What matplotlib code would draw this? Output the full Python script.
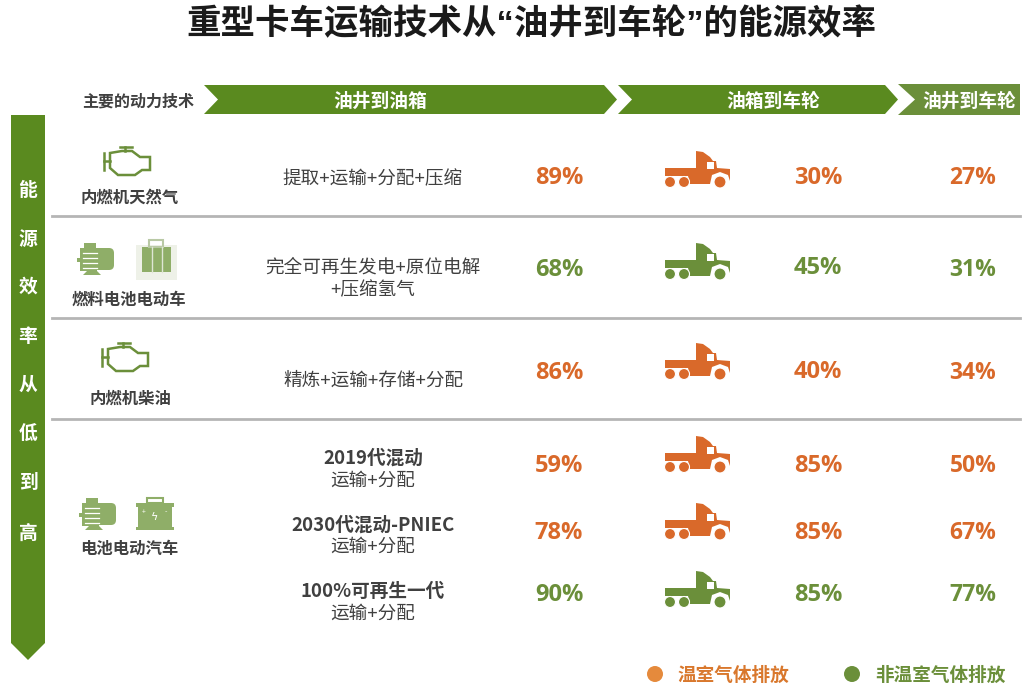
import matplotlib
matplotlib.use('Agg')
from matplotlib import pyplot as plt
from matplotlib.patches import Polygon, Circle, Rectangle, FancyBboxPatch

plt.rcParams['font.family'] = ['Noto Sans CJK SC', 'DejaVu Sans']

green = '#5a8a1f'
orange = '#d9692a'
leaf = '#6b8f3a'
icon_green = '#8fae68'
text_dark = '#404040'

title = '重型卡车运输技术从“油井到车轮”的能源效率'
side_chars = ['能', '源', '效', '率', '从', '低', '到', '高']
side_y = [190, 239, 287, 336, 385, 434, 483, 533]

headers = ['油井到油箱', '油箱到车轮', '油井到车轮']

row_y = [176, 268, 371, 464, 531, 593]
wheel_y = [176, 266, 370, 464, 531, 593]
truck_top = [151, 243, 343, 436, 503, 571]
tank = [89, 68, 86, 59, 78, 90]
wheel = [30, 45, 40, 85, 85, 85]
total = [27, 31, 34, 50, 67, 77]
row_col = ['o', 'g', 'o', 'o', 'o', 'g']
colors = {'o': orange, 'g': leaf}

process = ['提取+运输+分配+压缩', '完全可再生发电+原位电解\n+压缩氢气', '精炼+运输+存储+分配']
process_y = [179, 279, 381]
gen_names = ['2019代混动', '2030代混动-PNIEC', '100%可再生一代']
gen_y = [458, 525, 591]
sub_y = [481, 547, 614]

tech_names = ['内燃机天然气', '燃料电池电动车', '内燃机柴油', '电池电动汽车']
tech_x = [130, 129, 130, 129]
tech_y = [197, 299, 398, 548]

fig = plt.figure(figsize=(10.26, 6.96), dpi=100)
ax = fig.add_axes([0, 0, 1, 1])
ax.set_xlim(0, 1026)
ax.set_ylim(696, 0)
ax.axis('off')


def truck(cx, top, color):
    pts = [(-33, 17), (-2, 17), (-2, 0), (5, 1), (12, 6), (15, 10), (18, 10), (19, 17), (32, 18), (32, 30), (30, 24),
           (22, 21), (14, 24), (12, 33), (-8, 33), (-10, 25), (-33, 25)]
    ax.add_patch(Polygon([(cx + x, top + y) for x, y in pts], closed=True, fc=color, ec='none'))
    ax.add_patch(Rectangle((cx + 9, top + 11), 7, 7, fc='white', ec='none'))
    ax.add_patch(Circle((cx - 28, top + 31), 5.5, fc=color, ec='white', lw=0.8))
    ax.add_patch(Circle((cx - 14, top + 31), 5.5, fc=color, ec='white', lw=0.8))
    ax.add_patch(Circle((cx + 22, top + 31), 6, fc=color, ec='white', lw=0.8))


def engine(cx, cy):
    pts = [(-16, -8), (-4, -10), (6, -10), (14, -4), (24, -4), (24, 9), (16, 9), (9, 14), (-8, 14), (-16, 7)]
    ax.add_patch(Polygon([(cx + x, cy + y) for x, y in pts], closed=True, fc='none', ec=leaf, lw=1.8))
    ax.plot([cx - 22, cx - 22], [cy - 8, cy + 9], color=leaf, lw=1.8)
    ax.plot([cx - 22, cx - 16], [cy, cy], color=leaf, lw=1.8)
    ax.plot([cx - 1, cx - 1], [cy - 14, cy - 10], color=leaf, lw=1.8)
    ax.plot([cx - 6, cx + 6], [cy - 14, cy - 14], color=leaf, lw=1.8)


def motor(cx, cy):
    ax.add_patch(FancyBboxPatch((cx - 14, cy - 12), 32, 22, boxstyle='round,pad=0,rounding_size=5', fc=icon_green, ec='none'))
    ax.add_patch(Rectangle((cx - 16, cy - 12), 17, 23, fc=icon_green, ec='none'))
    ax.add_patch(Rectangle((cx - 12, cy - 17), 12, 5, fc=icon_green, ec='none'))
    ax.add_patch(Rectangle((cx - 19, cy - 2), 4, 4, fc=icon_green, ec='none'))
    ax.add_patch(Polygon([(cx - 13, cy + 15), (cx - 9, cy + 11), (cx + 1, cy + 11), (cx + 5, cy + 15)], closed=True, fc=icon_green, ec='none'))
    for dy in [-7, -2, 3, 8]:
        ax.plot([cx - 13, cx + 1], [cy + dy, cy + dy], color='white', lw=0.9)


def suitcase(cx, cy):
    ax.add_patch(Rectangle((cx - 20, cy - 15), 41, 35, fc='#eef1e8', ec='none'))
    ax.add_patch(Rectangle((cx - 14, cy - 13), 29, 25, fc=icon_green, ec='none'))
    ax.add_patch(Rectangle((cx - 7, cy - 20), 14, 7, fc='none', ec='#b9c9a5', lw=1.5))
    for dx in [-4, 6]:
        ax.plot([cx + dx, cx + dx], [cy - 13, cy + 12], color='#dfe6d5', lw=1)


def battery(cx, cy):
    ax.add_patch(Rectangle((cx - 17, cy - 8), 34, 20, fc=icon_green, ec='none'))
    ax.add_patch(Rectangle((cx - 19, cy - 12), 38, 4, fc=icon_green, ec='none'))
    ax.add_patch(Rectangle((cx - 19, cy + 12), 38, 3, fc=icon_green, ec='none'))
    ax.add_patch(Rectangle((cx - 8, cy - 17), 16, 5, fc='none', ec=icon_green, lw=1.5))
    ax.text(cx, cy + 2, 'ϟ', color='white', fontsize=8, ha='center', va='center', family='DejaVu Sans')
    ax.text(cx - 11, cy - 3, '+', color='white', fontsize=5, ha='center', va='center')
    ax.text(cx + 11, cy - 3, '-', color='white', fontsize=5, ha='center', va='center')


# title
ax.text(531, 24, title, fontsize=24.8, fontweight='bold', family=['Liberation Sans', 'Noto Sans CJK SC'], color='#1a1a1a', ha='center', va='center')

# header arrows
ax.text(138, 102, '主要的动力技术', fontsize=11.5, fontweight='bold', color=text_dark, ha='center', va='center')
ax.add_patch(Polygon([(204, 85), (604, 85), (617, 99.5), (604, 114), (204, 114), (218, 99.5)], closed=True, fc=green, ec='none'))
ax.add_patch(Polygon([(618, 85), (885, 85), (898, 99.5), (885, 114), (618, 114), (632, 99.5)], closed=True, fc=green, ec='none'))
ax.add_patch(Polygon([(898, 84), (1020, 84), (1020, 115), (898, 115), (915, 99.5)], closed=True, fc=leaf, ec='none'))
for x, label in zip([380, 773, 969], headers):
    ax.text(x, 101, label, fontsize=13.5, fontweight='bold', color='white', ha='center', va='center')

# side arrow
ax.add_patch(Polygon([(11, 115), (45, 115), (45, 643), (28, 660), (11, 643)], closed=True, fc=green, ec='none'))
for y, ch in zip(side_y, side_chars):
    ax.text(28, y, ch, fontsize=13.5, fontweight='bold', color='white', ha='center', va='center')

# row separators
for y in [216, 318, 419]:
    ax.plot([52, 1020], [y, y], color='#b5b5b5', lw=2)

# technology column
engine(126, 161)
motor(96, 260)
suitcase(156, 260)
engine(124, 357)
motor(98, 515)
battery(155, 515)
for x, y, name in zip(tech_x, tech_y, tech_names):
    ax.text(x, y + 1, name, fontsize=11.8, fontweight='bold', color=text_dark, ha='center', va='center')

# processes
ax.text(373, process_y[0], process[0], fontsize=13.4, color=text_dark, ha='center', va='center')
ax.text(373, process_y[1], process[1], fontsize=13.4, color=text_dark, ha='center', va='center', linespacing=1.3)
ax.text(373, process_y[2], process[2], fontsize=13.4, color=text_dark, ha='center', va='center')
for name, y, y2 in zip(gen_names, gen_y, sub_y):
    ax.text(373, y, name, fontsize=13.4, fontweight='bold', color=text_dark, ha='center', va='center')
    ax.text(373, y2, '运输+分配', fontsize=13.4, color=text_dark, ha='center', va='center')

# percentages and trucks
for i, c in enumerate(row_col):
    ax.text(559, row_y[i] + 2, f'{tank[i]}%', fontsize=17, fontweight='bold', family='Open Sans', color=colors[c], ha='center', va='center')
    truck(698, truck_top[i], colors[c])
    ax.text(818, wheel_y[i] + 2, f'{wheel[i]}%', fontsize=17, fontweight='bold', family='Open Sans', color=colors[c], ha='center', va='center')
    ax.text(973, row_y[i] + 2, f'{total[i]}%', fontsize=16.5, fontweight='bold', family='Open Sans', color=colors[c], ha='center', va='center')

# legend
ax.add_patch(Circle((655, 674), 8, fc='#e58a3c', ec='none'))
ax.text(733, 675, '温室气体排放', fontsize=13.4, fontweight='bold', color='#d9782d', ha='center', va='center')
ax.add_patch(Circle((852, 674), 8, fc=leaf, ec='none'))
ax.text(940, 675, '非温室气体排放', fontsize=13.4, fontweight='bold', color=leaf, ha='center', va='center')

fig.savefig('out.png', dpi=100)
